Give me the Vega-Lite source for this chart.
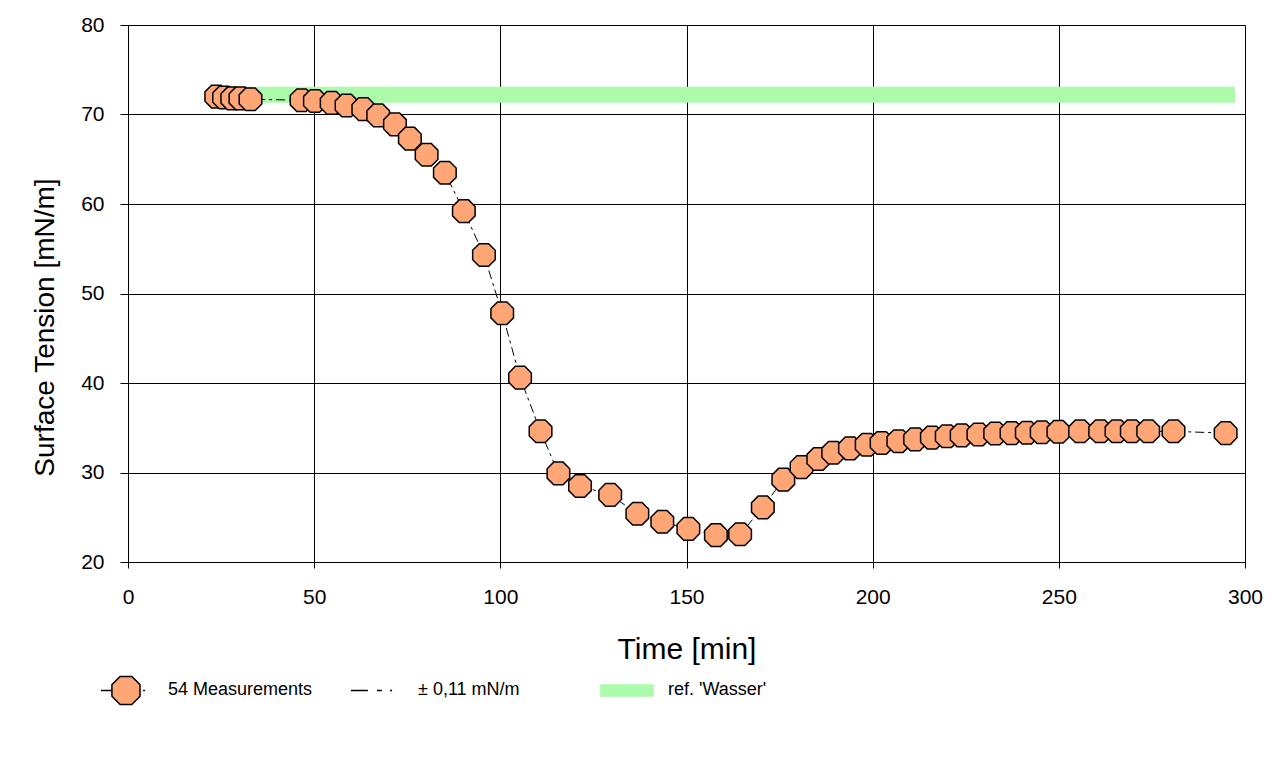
{
  "$schema": "https://vega.github.io/schema/vega-lite/v6.json",
  "autosize": {"type": "none"},
  "width": 1117,
  "height": 537,
  "padding": {"left": 128, "top": 25, "right": 26, "bottom": 195},
  "background": "white",
  "datasets": {
    "meas": [
      {"t": 23.7, "v": 72.0}, {"t": 25.8, "v": 71.9}, {"t": 28.0, "v": 71.8}, {"t": 30.2, "v": 71.8}, {"t": 32.9, "v": 71.7},
      {"t": 46.6, "v": 71.6}, {"t": 50.2, "v": 71.5}, {"t": 54.7, "v": 71.3}, {"t": 58.7, "v": 71.0}, {"t": 63.2, "v": 70.6},
      {"t": 67.2, "v": 69.9}, {"t": 71.7, "v": 68.9}, {"t": 75.7, "v": 67.3}, {"t": 80.2, "v": 65.5}, {"t": 85.1, "v": 63.5},
      {"t": 90.2, "v": 59.2}, {"t": 95.6, "v": 54.3}, {"t": 100.5, "v": 47.8}, {"t": 105.3, "v": 40.6}, {"t": 110.8, "v": 34.6},
      {"t": 115.6, "v": 29.9}, {"t": 121.4, "v": 28.5}, {"t": 129.5, "v": 27.5}, {"t": 136.8, "v": 25.4}, {"t": 143.5, "v": 24.5},
      {"t": 150.5, "v": 23.7}, {"t": 157.9, "v": 23.0}, {"t": 164.4, "v": 23.1}, {"t": 170.5, "v": 26.1}, {"t": 176.0, "v": 29.2},
      {"t": 180.9, "v": 30.6}, {"t": 185.4, "v": 31.5}, {"t": 189.4, "v": 32.2}, {"t": 193.9, "v": 32.7}, {"t": 198.4, "v": 33.1},
      {"t": 202.4, "v": 33.3}, {"t": 206.9, "v": 33.5}, {"t": 211.4, "v": 33.7}, {"t": 215.9, "v": 33.9}, {"t": 219.9, "v": 34.05},
      {"t": 223.9, "v": 34.15}, {"t": 228.4, "v": 34.25}, {"t": 232.9, "v": 34.35}, {"t": 237.3, "v": 34.4}, {"t": 241.4, "v": 34.45},
      {"t": 245.4, "v": 34.5}, {"t": 249.9, "v": 34.55}, {"t": 255.7, "v": 34.6}, {"t": 261.1, "v": 34.6}, {"t": 265.5, "v": 34.6},
      {"t": 269.6, "v": 34.6}, {"t": 274.0, "v": 34.6}, {"t": 280.8, "v": 34.6}, {"t": 294.8, "v": 34.4}
    ],
    "ref": [
      {"t": 24, "t2": 297.3, "v": 72.2}
    ]
  },
  "config": {
    "view": {"stroke": null},
    "axis": {
      "grid": true,
      "gridColor": "#000000",
      "gridOpacity": 1,
      "gridWidth": 1,
      "domainColor": "#000000",
      "domainWidth": 1,
      "tickColor": "#000000",
      "tickWidth": 1,
      "labelFont": "Liberation Sans",
      "labelColor": "#000000",
      "labelFontSize": 21,
      "labelFlush": false,
      "titleFont": "Liberation Sans",
      "titleColor": "#000000",
      "titleFontWeight": "normal"
    },
    "legend": {
      "labelFont": "Liberation Sans", "labelFontSize": 18, "labelColor": "#000000"
    }
  },
  "layer": [
    {
      "data": {"name": "ref"},
      "mark": {"type": "rule", "color": "#ABFBAB", "strokeWidth": 16, "strokeCap": "butt"},
      "encoding": {
        "x": {"field": "t", "type": "quantitative", "scale": {"domain": [0, 300], "nice": false, "zero": false},
              "axis": {"values": [0, 50, 100, 150, 200, 250, 300], "tickSize": 6, "labelPadding": 18, "title": "Time [min]", "titleFontSize": 30, "titleBaseline": "middle", "titleY": 87}},
        "x2": {"field": "t2"},
        "y": {"field": "v", "type": "quantitative", "scale": {"domain": [20, 80], "nice": false, "zero": false},
              "axis": {"values": [20, 30, 40, 50, 60, 70, 80], "tickSize": 8, "labelPadding": 16, "title": "Surface Tension [mN/m]", "titleFontSize": 28, "titleBaseline": "middle", "titleX": -83, "titleY": 302}}
      }
    },
    {
      "data": {"name": "meas"},
      "mark": {"type": "line", "color": "#000000", "strokeWidth": 1, "strokeDash": [9, 4, 3, 4]},
      "encoding": {
        "x": {"field": "t", "type": "quantitative"},
        "y": {"field": "v", "type": "quantitative"}
      }
    },
    {
      "data": {"name": "meas"},
      "mark": {"type": "point", "filled": true, "fill": "#FFA677", "stroke": "#000000", "strokeWidth": 1.5, "opacity": 1, "fillOpacity": 1, "size": 510,
               "shape": "M-0.414,-1L0.414,-1L1,-0.414L1,0.414L0.414,1L-0.414,1L-1,0.414L-1,-0.414Z"},
      "encoding": {
        "x": {"field": "t", "type": "quantitative"},
        "y": {"field": "v", "type": "quantitative"}
      }
    },
    {
      "data": {"name": "ref"},
      "mark": {"type": "point", "filled": true, "opacity": 0},
      "encoding": {
        "x": {"field": "t", "type": "quantitative"},
        "y": {"field": "v", "type": "quantitative"},
        "shape": {"datum": "54 Measurements", "type": "nominal",
          "scale": {"domain": ["54 Measurements", "± 0,11 mN/m", "ref. 'Wasser'"],
                    "range": ["M-1,0L-0.58,0M-0.264,-0.54L0.184,-0.54L0.5,-0.224L0.5,0.224L0.184,0.54L-0.264,0.54L-0.58,0.224L-0.58,-0.224ZM0.62,0L0.69,0",
                              "M0,-0.54M0,0.54M-1,0L-0.35,0M0,0L0.19,0M0.5,0L0.58,0",
                              "M0,-0.54M0,0.54M-1,-0.21L1,-0.21L1,0.21L-1,0.21Z"]},
          "legend": {"title": null, "orient": "none", "legendX": -28, "legendY": 638, "direction": "horizontal", "columns": 3,
                     "gridAlign": "all", "columnPadding": 35, "symbolSize": 2704, "symbolStrokeWidth": 1.5, "labelOffset": 14, "padding": 0}},
        "fill": {"datum": "54 Measurements", "type": "nominal",
          "scale": {"domain": ["54 Measurements", "± 0,11 mN/m", "ref. 'Wasser'"], "range": ["#FFA677", "transparent", "#ABFBAB"]},
          "legend": {"title": null, "orient": "none", "legendX": -28, "legendY": 638, "direction": "horizontal", "columns": 3,
                     "gridAlign": "all", "columnPadding": 35, "symbolSize": 2704, "symbolStrokeWidth": 1.5, "labelOffset": 14, "padding": 0}},
        "stroke": {"datum": "54 Measurements", "type": "nominal",
          "scale": {"domain": ["54 Measurements", "± 0,11 mN/m", "ref. 'Wasser'"], "range": ["#000000", "#000000", "#ABFBAB"]},
          "legend": {"title": null, "orient": "none", "legendX": -28, "legendY": 638, "direction": "horizontal", "columns": 3,
                     "gridAlign": "all", "columnPadding": 35, "symbolSize": 2704, "symbolStrokeWidth": 1.5, "labelOffset": 14, "padding": 0}}
      }
    }
  ]
}
